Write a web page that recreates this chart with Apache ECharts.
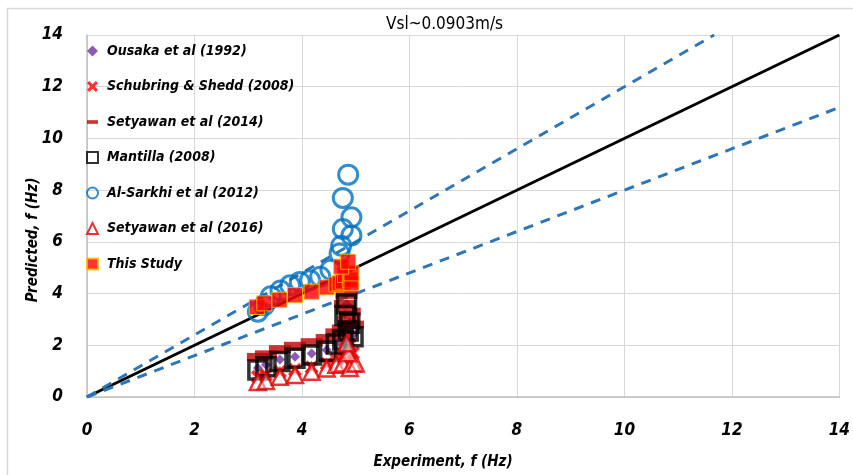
<!DOCTYPE html>
<html>
<head>
<meta charset="utf-8">
<script src="https://cdn.jsdelivr.net/npm/echarts@6/dist/echarts.min.js"></script>
<style>html,body{margin:0;padding:0;background:#fff}#c{width:853px;height:475px}</style>
</head>
<body>
<div id="c"></div>
<script>
// ---- data ----
var titleText = 'Vsl~0.0903m/s';
var xAxisTitle = 'Experiment, f (Hz)';
var yAxisTitle = 'Predicted, f (Hz)';
var axisTicks = [0, 2, 4, 6, 8, 10, 12, 14];

var ousakaX = [3.18, 3.33, 3.59, 3.87, 4.18, 4.46, 4.64, 4.76, 4.95, 4.86, 4.89, 4.80, 4.83];
var ousakaY = [1.12, 1.25, 1.45, 1.56, 1.68, 1.82, 2.08, 2.25, 2.40, 2.60, 2.90, 3.20, 3.60];

var schubringX = [3.18, 3.33, 3.59, 3.87, 4.18, 4.46, 4.64, 4.76, 4.95, 4.86, 4.89, 4.80, 4.83];
var schubringY = [0.78, 0.85, 0.98, 1.05, 1.15, 1.28, 1.45, 1.55, 1.70, 1.85, 2.00, 2.15, 2.30];

var setyawan14X = [3.18, 3.33, 3.59, 3.87, 4.18, 4.46, 4.64, 4.76, 4.95, 4.86, 4.89, 4.80, 4.83];
var setyawan14Y = [1.55, 1.65, 1.85, 1.98, 2.12, 2.28, 2.50, 2.65, 2.80, 3.00, 3.30, 3.60, 3.95];

var mantillaX = [3.18, 3.33, 3.59, 3.87, 4.18, 4.46, 4.64, 4.76, 4.95, 4.86, 4.89, 4.80, 4.83];
var mantillaY = [1.04, 1.17, 1.37, 1.50, 1.62, 1.77, 2.05, 2.20, 2.33, 2.55, 2.85, 3.15, 3.60];

var alSarkhiX = [3.18, 3.30, 3.42, 3.60, 3.78, 3.96, 4.15, 4.34, 4.53, 4.70, 4.73, 4.92, 4.76, 4.92, 4.76, 4.86];
var alSarkhiY = [3.30, 3.55, 3.90, 4.12, 4.32, 4.45, 4.52, 4.65, 4.92, 5.55, 5.85, 6.25, 6.50, 6.95, 7.70, 8.60];

var setyawan16X = [3.18, 3.33, 3.59, 3.87, 4.18, 4.46, 4.64, 4.76, 4.95, 4.89, 5.00, 4.86, 4.83];
var setyawan16Y = [0.58, 0.62, 0.78, 0.85, 0.98, 1.10, 1.25, 1.30, 1.30, 1.12, 1.30, 1.69, 2.08];

var thisStudyX = [3.16, 3.30, 3.58, 3.87, 4.18, 4.46, 4.64, 4.70, 4.76, 4.80, 4.89, 4.92, 4.92, 4.73, 4.86];
var thisStudyY = [3.48, 3.62, 3.76, 3.94, 4.07, 4.24, 4.35, 4.40, 4.46, 4.72, 4.52, 4.40, 4.78, 5.04, 5.23];

var lineX = [0, 14];
var perfectY = [0, 14];
var upperX = [0, 11.67];
var upperY = [0, 14];
var lowerX = [0, 14];
var lowerY = [0, 11.2];

function pairs(xs, ys) { return xs.map(function (x, i) { return [x, ys[i]]; }); }

var FONT = "'DejaVu Sans Condensed', 'Open Sans', sans-serif";
var xPath = 'path://M0,2L2,0L5,3L8,0L10,2L7,5L10,8L8,10L5,7L2,10L0,8L3,5Z';
var dashPath = 'path://M0,0H12V4H0Z';

var chart = echarts.init(document.getElementById('c'), null, { renderer: 'canvas' });
var nameStyle = { fontFamily: FONT, fontSize: 15, fontStyle: 'italic', fontWeight: 'bold', fill: '#000' };
var option = {
  animation: false,
  backgroundColor: '#fff',
  graphic: [
    { type: 'rect', left: 5, top: 6, z: -10, silent: true,
      shape: { width: 900, height: 500 },
      style: { fill: 'none', stroke: '#d9d9d9', lineWidth: 1.5 } },
    { type: 'text', x: 443, y: 462, z: 5, silent: true,
      style: Object.assign({ text: xAxisTitle, align: 'center', verticalAlign: 'middle' }, nameStyle) },
    { type: 'text', x: 33, y: 240, rotation: Math.PI / 2, z: 5, silent: true,
      style: Object.assign({ text: yAxisTitle, align: 'center', verticalAlign: 'middle' }, nameStyle) }
  ],
  title: {
    text: titleText, left: 381, top: 11,
    textStyle: { fontFamily: FONT, fontSize: 17, fontWeight: 'normal', color: '#000' }
  },
  grid: { left: 87, right: 13, top: 35, bottom: 78, containLabel: false },
  legend: {
    orient: 'vertical', left: 81, top: 39, itemGap: 21.5, itemWidth: 11, itemHeight: 11,
    symbolKeepAspect: true,
    textStyle: { fontFamily: FONT, fontSize: 14, fontStyle: 'italic', fontWeight: 'bold', color: '#000', padding: [0, 0, 0, 4] },
    data: [
      { name: 'Ousaka et al (1992)' },
      { name: 'Schubring & Shedd (2008)' },
      { name: 'Setyawan et al (2014)' },
      { name: 'Mantilla (2008)' },
      { name: 'Al-Sarkhi et al (2012)' },
      { name: 'Setyawan et al (2016)' },
      { name: 'This Study' }
    ]
  },
  xAxis: {
    type: 'value', min: 0, max: 14, interval: 2,
    axisLine: { show: true, onZero: false, lineStyle: { color: '#bfbfbf', width: 1.5 } },
    axisTick: { show: false },
    splitLine: { show: true, lineStyle: { color: '#d9d9d9', width: 1 } },
    axisLabel: { margin: 25, fontFamily: FONT, fontSize: 17, fontStyle: 'italic', fontWeight: 'bold', color: '#000',
      formatter: function (v) { return axisTicks.indexOf(v) >= 0 ? String(v) : ''; } }
  },
  yAxis: {
    type: 'value', min: 0, max: 14, interval: 2,
    axisLine: { show: true, onZero: false, lineStyle: { color: '#bfbfbf', width: 1.5 } },
    axisTick: { show: false },
    splitLine: { show: true, lineStyle: { color: '#d9d9d9', width: 1 } },
    axisLabel: { margin: 24, fontFamily: FONT, fontSize: 17, fontStyle: 'italic', fontWeight: 'bold', color: '#000',
      formatter: function (v) { return axisTicks.indexOf(v) >= 0 ? String(v) : ''; } }
  },
  series: [
    { name: 'perfect', type: 'line', data: pairs(lineX, perfectY), symbol: 'none', silent: true,
      lineStyle: { color: '#000', width: 3 }, z: 1 },
    { name: 'upper', type: 'line', data: pairs(upperX, upperY), symbol: 'none', silent: true,
      lineStyle: { color: '#2E75B6', width: 3, type: [10, 8] }, z: 1 },
    { name: 'lower', type: 'line', data: pairs(lowerX, lowerY), symbol: 'none', silent: true,
      lineStyle: { color: '#2E75B6', width: 3, type: [10, 8] }, z: 1 },
    { name: 'Ousaka et al (1992)', type: 'scatter', data: pairs(ousakaX, ousakaY),
      symbol: 'diamond', symbolSize: 10, itemStyle: { color: '#7030A0' }, z: 2 },
    { name: 'Schubring & Shedd (2008)', type: 'scatter', data: pairs(schubringX, schubringY),
      symbol: xPath, symbolSize: 14, itemStyle: { color: '#FF0000' }, z: 2 },
    { name: 'Setyawan et al (2014)', type: 'scatter', data: pairs(setyawan14X, setyawan14Y),
      symbol: dashPath, symbolSize: [22, 8], itemStyle: { color: '#C00000' }, z: 2 },
    { name: 'Mantilla (2008)', type: 'scatter', data: pairs(mantillaX, mantillaY),
      symbol: 'rect', symbolSize: 18,
      itemStyle: { color: 'rgba(0,0,0,0)', borderColor: '#000', borderWidth: 3.5 }, z: 2 },
    { name: 'Al-Sarkhi et al (2012)', type: 'scatter', data: pairs(alSarkhiX, alSarkhiY),
      symbol: 'circle', symbolSize: 19,
      itemStyle: { color: 'rgba(0,0,0,0)', borderColor: '#0070C0', borderWidth: 3 }, z: 2 },
    { name: 'Setyawan et al (2016)', type: 'scatter', data: pairs(setyawan16X, setyawan16Y),
      symbol: 'triangle', symbolSize: 16,
      itemStyle: { color: 'rgba(255,255,255,0.6)', borderColor: '#E00000', borderWidth: 2.5 }, z: 2 },
    { name: 'This Study', type: 'scatter', data: pairs(thisStudyX, thisStudyY),
      symbol: 'rect', symbolSize: 15,
      itemStyle: { color: '#FF0000', borderColor: '#FFC000', borderWidth: 1 }, z: 3 }
  ]
};
chart.setOption(option);
</script>
</body>
</html>
